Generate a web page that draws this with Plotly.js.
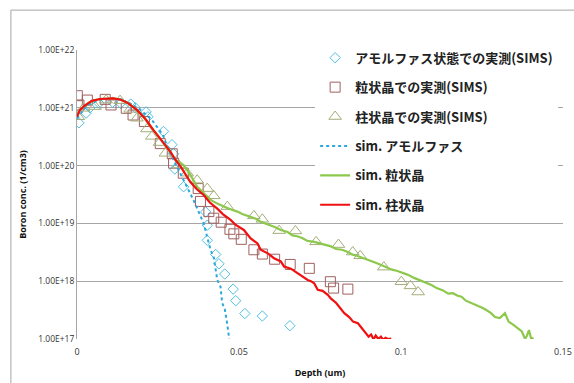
<!DOCTYPE html>
<html>
<head>
<meta charset="utf-8">
<script src="https://cdn.plot.ly/plotly-3.0.1.min.js"></script>
<style>html,body{margin:0;padding:0;background:#fff;}#chart{width:574px;height:383px;}</style>
</head>
<body>
<div id="chart"></div>
<script>
// ---- data (Depth in um, Boron conc. in 1/cm3) ----
const amoSimsX = [0.0006,0.0028,0.004,0.0068,0.011,0.0135,0.0166,0.018,0.0213,0.0219,0.0267,0.0293,0.0298,0.0302,0.0329,0.0397,0.0402,0.0402,0.0428,0.0438,0.0456,0.0482,0.049,0.0518,0.0572,0.0657];
const amoSimsY = [5.5e20,8.1e20,1.0e21,1.2e21,1.25e21,1.2e21,1.16e21,1.0e21,8.5e20,7.0e20,3.9e20,2.3e20,1.6e20,8.7e19,4.3e19,1.58e19,9.3e18,5.1e18,2.9e18,2.0e18,1.33e18,7.3e17,4.6e17,2.76e17,2.5e17,1.7e17];

const graSimsX = [0.0001,0.0006,0.0032,0.0087,0.0105,0.0152,0.0173,0.0208,0.0257,0.0294,0.0298,0.0328,0.0374,0.0381,0.0407,0.0422,0.0445,0.0472,0.0484,0.0507,0.0546,0.0572,0.061,0.0658,0.0717,0.0782,0.0792,0.0836];
const graSimsY = [1.62e21,1.12e21,1.36e21,1.4e21,1.12e21,9.8e20,7.5e20,5.8e20,2.4e20,1.6e20,1.1e20,7.4e19,4.0e19,2.4e19,1.6e19,1.23e19,1.05e19,7.9e18,6.6e18,5.3e18,3.5e18,2.95e18,2.4e18,1.95e18,1.67e18,9.8e17,7.6e17,7.3e17];

const colSimsX = [0.0004,0.002,0.0056,0.009,0.0133,0.0164,0.0185,0.0216,0.0231,0.0255,0.0273,0.0314,0.034,0.0371,0.0402,0.0422,0.0464,0.0546,0.0572,0.0624,0.0674,0.0738,0.0807,0.0851,0.0874,0.0947,0.1001,0.1029,0.1053];
const colSimsY = [7.0e20,9.8e20,1.05e21,1.36e21,1.33e21,9.4e20,6.6e20,4.3e20,3.2e20,2.5e20,1.63e20,1.02e20,7.4e19,5.6e19,4.0e19,3.0e19,1.95e19,1.35e19,1.18e19,7.5e18,7.4e18,4.8e18,4.3e18,3.2e18,2.75e18,1.75e18,9.8e17,8.3e17,6.5e17];

const amoLineX = [0,0.003,0.007,0.011,0.015,0.019,0.023,0.0265,0.0283,0.0304,0.0329,0.036,0.0391,0.0412,0.0422,0.0433,0.0443,0.0448,0.0456,0.0462,0.047];
const amoLineY = [6.5e20,1.1e21,1.38e21,1.45e21,1.3e21,9.8e20,6.3e20,3.4e20,1.86e20,1.1e20,5.6e19,2.5e19,1.0e19,3.5e18,2.6e18,1.05e18,8.0e17,4.2e17,3.3e17,2.1e17,1.0e17];

const graLineX = [0,0.0009,0.0025,0.0046,0.0071,0.0093,0.0112,0.0133,0.0155,0.0185,0.0211,0.0236,0.0263,0.0288,0.0304,0.0329,0.035,0.0371,0.0397,0.0415,0.0433,0.0448,0.0462,0.0478,0.0495,0.051,0.053,0.055,0.0567,0.059,0.0612,0.0629,0.065,0.0665,0.0679,0.0695,0.071,0.0732,0.075,0.0767,0.0784,0.08,0.0818,0.0836,0.085,0.0868,0.0886,0.09,0.092,0.0939,0.0955,0.097,0.0989,0.1005,0.102,0.1042,0.106,0.1075,0.1094,0.111,0.1128,0.1146,0.116,0.1175,0.1187,0.12,0.1218,0.1232,0.1249,0.1262,0.1278,0.129,0.1305,0.1321,0.1332,0.1347,0.136,0.1373,0.1383,0.1389,0.1395,0.1402,0.1409];
const graLineY = [7.0e20,9.2e20,1.1e21,1.32e21,1.42e21,1.46e21,1.46e21,1.39e21,1.23e21,9.2e20,6.4e20,4.1e20,2.7e20,1.75e20,1.25e20,1.02e20,6.9e19,4.3e19,3.1e19,2.5e19,2.2e19,2.0e19,1.87e19,1.72e19,1.6e19,1.45e19,1.34e19,1.22e19,1.07e19,9.6e18,8.6e18,7.7e18,7.1e18,6.2e18,6.0e18,5.6e18,5.0e18,4.8e18,4.5e18,4.3e18,4.0e18,3.6e18,3.5e18,3.2e18,2.9e18,2.7e18,2.5e18,2.35e18,2.1e18,1.9e18,1.75e18,1.6e18,1.5e18,1.4e18,1.3e18,1.13e18,1.02e18,9.6e17,8.6e17,7.6e17,7.0e17,6.1e17,6.2e17,5.6e17,5.4e17,4.6e17,4.2e17,3.9e17,3.5e17,3.2e17,2.8e17,2.4e17,2.3e17,2.8e17,2.0e17,1.75e17,1.55e17,1.35e17,1.0e17,1.15e17,1.43e17,1.0e17,1.05e17];

const colLineX = [0,0.0009,0.0025,0.0046,0.0071,0.0093,0.0112,0.0133,0.0155,0.0185,0.0211,0.0236,0.0263,0.0288,0.0304,0.0319,0.035,0.037,0.0391,0.041,0.0433,0.045,0.0474,0.049,0.0515,0.0536,0.0557,0.0567,0.059,0.0608,0.0629,0.0639,0.066,0.0681,0.069,0.0712,0.0722,0.0732,0.0743,0.0758,0.0774,0.0784,0.08,0.0812,0.0825,0.084,0.0852,0.0867,0.088,0.089,0.09,0.0908,0.0915,0.0922,0.093,0.0938,0.0945,0.0952,0.096,0.097];
const colLineY = [7.0e20,9.2e20,1.1e21,1.32e21,1.42e21,1.46e21,1.46e21,1.39e21,1.23e21,9.2e20,6.4e20,4.1e20,2.7e20,1.75e20,1.25e20,9.8e19,5.2e19,3.9e19,3.1e19,2.3e19,1.8e19,1.45e19,1.15e19,9.4e18,7.7e18,5.5e18,4.5e18,3.5e18,3.0e18,2.5e18,2.2e18,1.8e18,1.65e18,1.37e18,1.3e18,1.05e18,1.0e18,9.2e17,7.1e17,6.8e17,5.8e17,5.0e17,4.2e17,3.4e17,2.8e17,2.4e17,2.0e17,1.87e17,1.5e17,1.3e17,1.1e17,1.2e17,0.98e17,1.15e17,1.0e17,1.1e17,0.97e17,1.05e17,1.0e17,1.02e17];

const legendNames = ['アモルファス状態での実測(SIMS)','粒状晶での実測(SIMS)','柱状晶での実測(SIMS)','sim. アモルファス','sim. 粒状晶','sim. 柱状晶'];
const yTickVals = [1e17,1e18,1e19,1e20,1e21,1e22];
const yTickText = ['1.00E+17','1.00E+18','1.00E+19','1.00E+20','1.00E+21','1.00E+22'];
const xTickVals = [0,0.05,0.1,0.15];
const xTickText = ['0','0.05','0.1','0.15'];

const traces = [
  {x: amoSimsX, y: amoSimsY, name: legendNames[0], legendgroup: 'g1', mode: 'markers', type: 'scatter',
   marker: {symbol: 'diamond-open', size: 8, color: '#4FC0E0', line: {width: 1, color: '#4FC0E0'}}},
  {x: graSimsX, y: graSimsY, name: legendNames[1], legendgroup: 'g2', mode: 'markers', type: 'scatter',
   marker: {symbol: 'square-open', size: 10, color: '#A06060', line: {width: 1, color: '#A06060'}}},
  {x: colSimsX, y: colSimsY, name: legendNames[2], legendgroup: 'g3', mode: 'markers', type: 'scatter',
   marker: {symbol: 'triangle-up-open', size: 11, color: '#A3AE78', line: {width: 1, color: '#A3AE78'}}},
  {x: amoLineX, y: amoLineY, name: legendNames[3], legendgroup: 'g4', mode: 'lines', type: 'scatter',
   line: {color: '#2AA8DC', width: 2, dash: 'dot'}},
  {x: graLineX, y: graLineY, name: legendNames[4], legendgroup: 'g5', mode: 'lines', type: 'scatter',
   line: {color: '#8CC84B', width: 2.2}},
  {x: colLineX, y: colLineY, name: legendNames[5], legendgroup: 'g6', mode: 'lines', type: 'scatter',
   line: {color: '#F01010', width: 2.2}}
];

const layout = {
  width: 574, height: 383,
  margin: {l: 77, r: 11, t: 50, b: 44, pad: 0},
  paper_bgcolor: '#ffffff', plot_bgcolor: '#ffffff',
  font: {family: 'Noto Sans CJK JP, Open Sans, sans-serif', size: 9, color: '#222'},
  showlegend: true,
  legend: {x: 0.49, y: 1.025, xanchor: 'left', yanchor: 'top', bgcolor: '#ffffff',
    font: {family: 'Noto Sans CJK JP, sans-serif', size: 13, color: '#222', weight: 'bold'},
    tracegroupgap: 9.5, itemwidth: 30},
  xaxis: {range: [0, 0.15], tickvals: xTickVals, ticktext: xTickText, showgrid: false, zeroline: false,
    showline: false, ticks: '', ticklabelstandoff: 6, tickfont: {family: 'Open Sans, sans-serif', size: 9, color: '#333'},
    title: {text: 'Depth (um)', font: {family: 'Open Sans, sans-serif', size: 9, color: '#111', weight: 'bold'}, standoff: 12}},
  yaxis: {type: 'log', range: [17, 22], tickvals: yTickVals, ticktext: yTickText, showgrid: true,
    gridcolor: '#A6A6A6', gridwidth: 1, zeroline: false, showline: true, linecolor: '#A6A6A6', ticks: '',
    tickfont: {family: 'Open Sans, sans-serif', size: 8.5, color: '#333'},
    title: {text: 'Boron conc. (1/cm3)', font: {family: 'Open Sans, sans-serif', size: 9, color: '#111', weight: 'bold'}, standoff: 10}},
  shapes: [
    {type: 'line', xref: 'paper', yref: 'paper', x0: -0.136, x1: -0.136, y0: 1.138, y1: -0.2, line: {color: '#A6A6A6', width: 1}},
    {type: 'line', xref: 'paper', yref: 'paper', x0: -0.136, x1: 1.1, y0: 1.138, y1: 1.138, line: {color: '#A6A6A6', width: 1}}
  ]
};

Plotly.newPlot('chart', traces, layout, {displayModeBar: false, staticPlot: true});
</script>
</body>
</html>
